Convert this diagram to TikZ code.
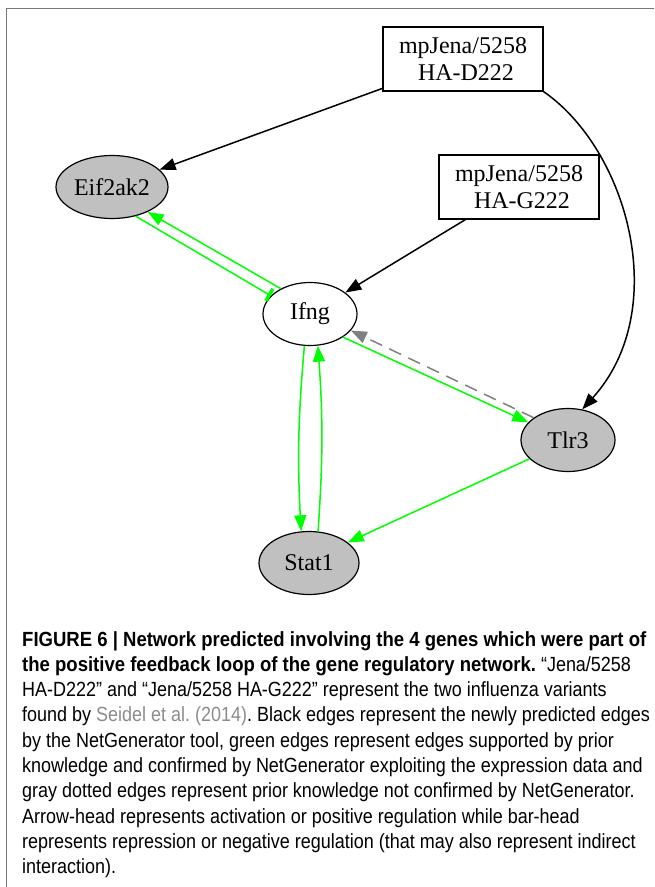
\documentclass[tikz,border=0pt]{standalone}
\usepackage{fontspec}
\setmainfont{Liberation Serif}
\newfontfamily\capfont[FakeStretch=0.877,BoldFeatures={FakeStretch=0.904}]{Liberation Sans}
\usetikzlibrary{shapes.geometric,arrows.meta}
\definecolor{gvgreen}{RGB}{0,255,0}
\definecolor{gvgray}{RGB}{192,192,192}
\definecolor{randgrau}{RGB}{120,120,120}
\definecolor{zitatgrau}{RGB}{140,140,140}
\begin{document}
\begin{tikzpicture}[
        x=1pt, y=-1pt,
        font=\fontsize{24}{27}\selectfont,
        gen/.style={
            ellipse,
            draw,
            line width=1.2pt,
            fill=gvgray,
            inner sep=0pt,
            minimum height=63pt
        },
        variante/.style={
            draw,
            line width=1.2pt,
            align=center,
            inner sep=0pt,
            minimum width=160pt,
            minimum height=64pt
        },
        kante/.style={
            line width=1.5pt,
            -{Triangle[length=16pt,width=12pt]}
        },
        hemmung/.style={
            line width=1.5pt,
            -{Bar[width=14pt,line width=3.5pt]}
        }
    ]
    \useasboundingbox (0,0) rectangle (654,887);
    % Rahmen
    \draw[randgrau, line width=1pt] (6,887) -- (6,8) -- (654,8);
    % Varianten
    \node[variante] (d222) at (463,59) {mpJena/5258\\\ HA-D222};
    \node[variante] (g222) at (519,187) {mpJena/5258\\\ HA-G222};
    % Gene
    \node[gen, minimum width=112pt] (eif) at (112,187) {Eif2ak2};
    \node[gen, minimum width=94pt, fill=white] (ifng) at (310,314) {Ifng};
    \node[gen, minimum width=94pt] (tlr) at (568,440) {Tlr3};
    \node[gen, minimum width=100pt] (stat) at (309,563) {Stat1};
    % neu vorhergesagte Kanten
    \draw[kante] (d222) -- (eif);
    \draw[kante] (g222) -- (ifng);
    \draw[kante] (d222.south east) .. controls (628,150) and (672,310) .. (tlr.65);
    % Vorwissen, bestaetigt
    \draw[kante, gvgreen] (ifng.139) -- (eif.-35);
    \draw[hemmung, gvgreen] (eif.-51) -- (ifng.155);
    \draw[kante, gvgreen] (ifng.-100) to[bend right=4] (stat.104);
    \draw[kante, gvgreen] (stat.74) to[bend right=4] (ifng.-76);
    \draw[kante, gvgreen] (ifng.-35) -- (tlr.156);
    \draw[kante, gvgreen] (tlr.-154) -- (stat.28);
    % Vorwissen, nicht bestaetigt
    \draw[kante, gray, dash pattern=on 13pt off 8pt] (tlr.147) -- (ifng.-22);
    % Bildunterschrift
    \node[anchor=north west, align=left, inner sep=0pt,
          font=\capfont\fontsize{20.5}{25.3}\selectfont\frenchspacing] (caption) at (22,631)
        {\textbf{FIGURE 6 | Network predicted involving the 4 genes which were part of}\\
         \textbf{the positive feedback loop of the gene regulatory network.} “Jena/5258\\
         HA-D222” and “Jena/5258 HA-G222” represent the two influenza variants\\
         found by \textcolor{zitatgrau}{Seidel et al. (2014)}. Black edges represent the newly predicted edges\\
         by the NetGenerator tool, green edges represent edges supported by prior\\
         knowledge and confirmed by NetGenerator exploiting the expression data and\\
         gray dotted edges represent prior knowledge not confirmed by NetGenerator.\\
         Arrow-head represents activation or positive regulation while bar-head\\
         represents repression or negative regulation (that may also represent indirect\\
         interaction).};
\end{tikzpicture}
\end{document}
